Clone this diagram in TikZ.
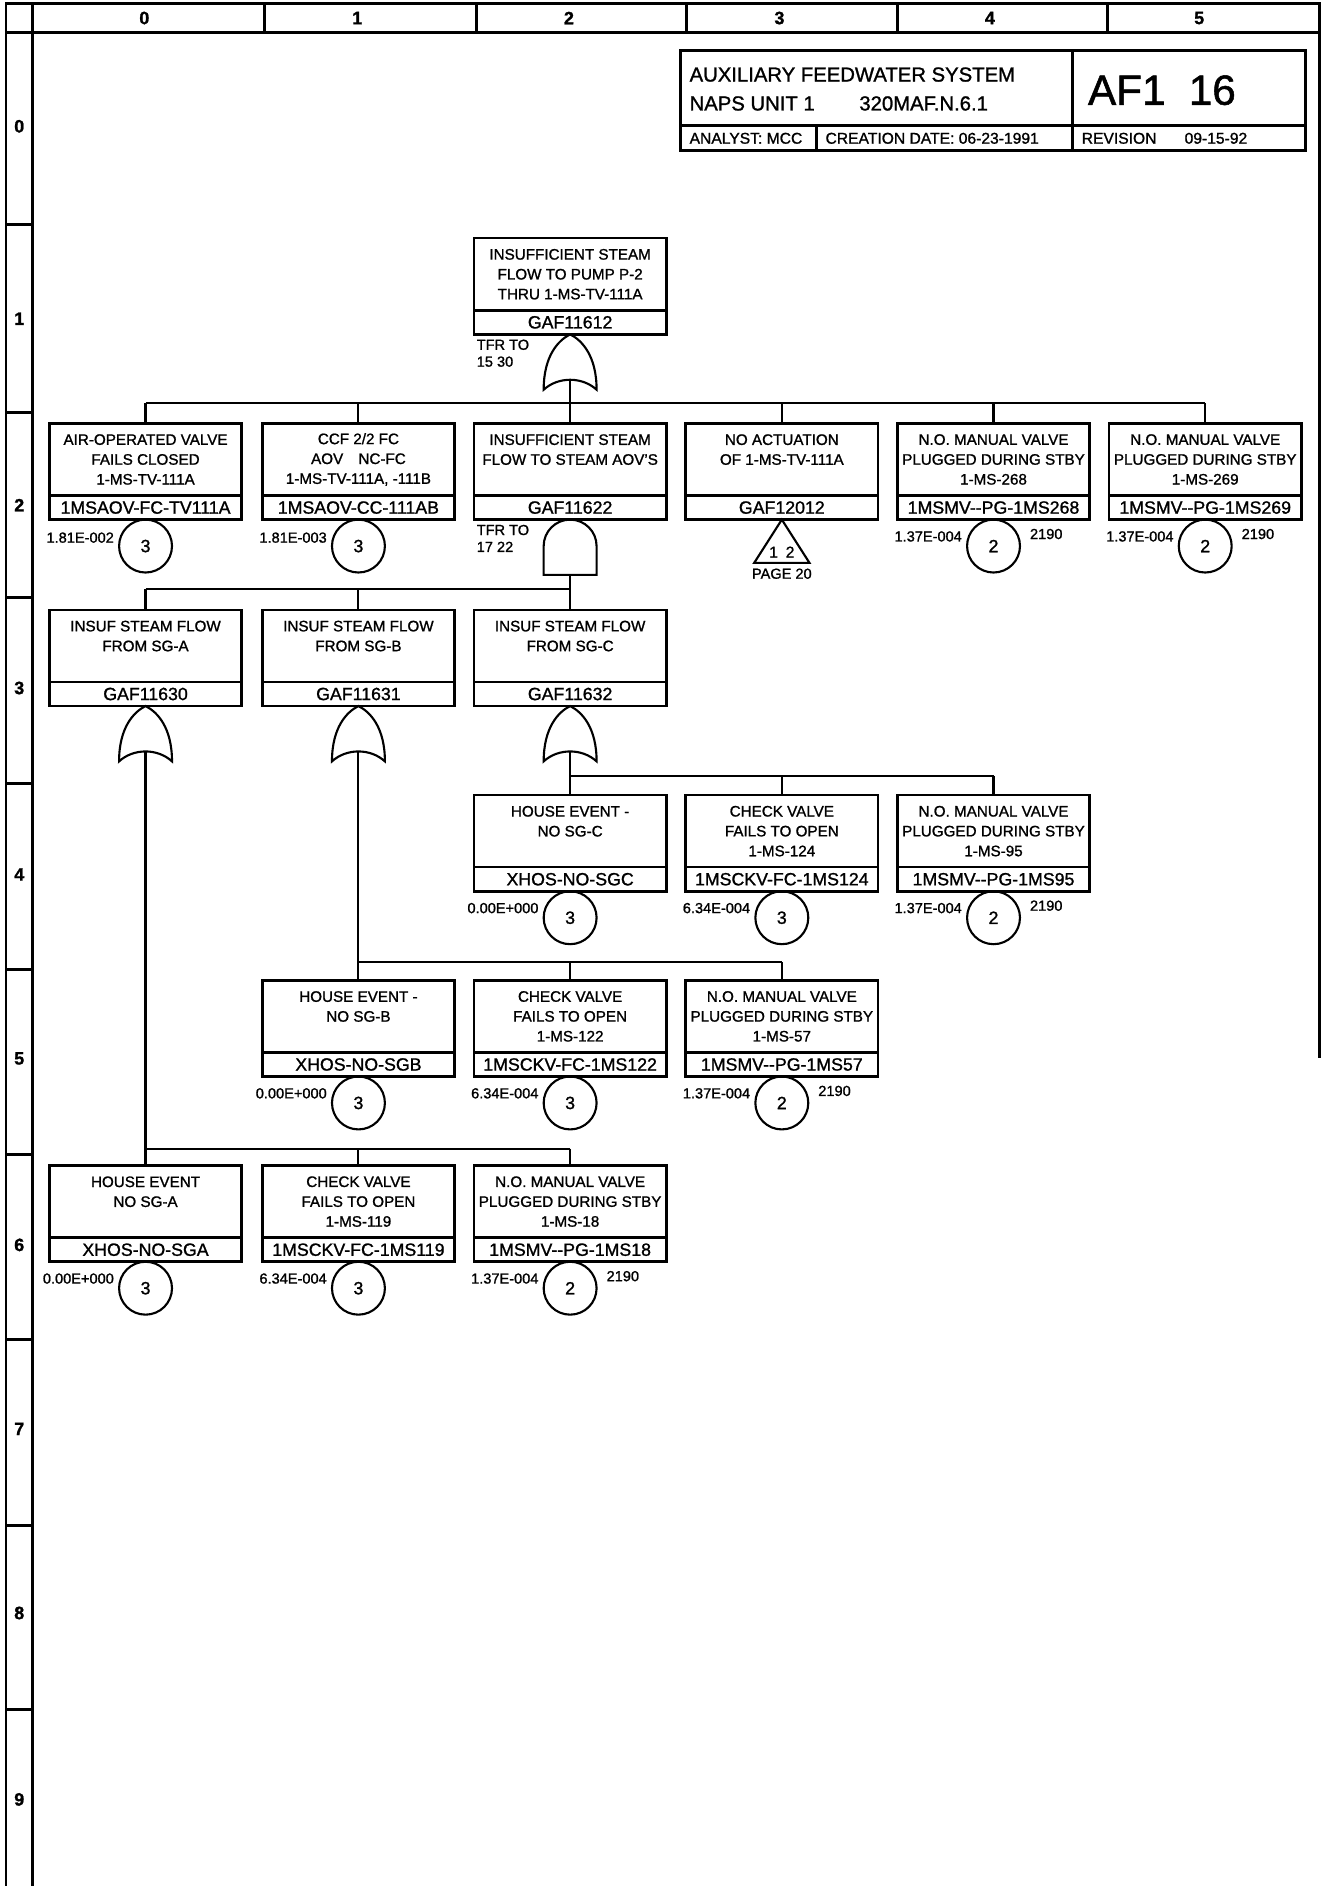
\documentclass[tikz,border=0pt]{standalone}
\usepackage{fontspec}
\setmainfont{Liberation Sans}[FakeBold=1.2]
\usetikzlibrary{positioning}

\tikzset{
  frame/.style={line width=1.4pt},
  wire/.style={line width=1pt},
  descbox/.style={draw, line width=1.2pt, minimum width=3.2cm, minimum height=1.2cm,
    inner sep=0pt, outer sep=0pt, align=center, font=\fontsize{7.2}{9.4}\selectfont},
  idbox/.style={draw, line width=1.2pt, minimum width=3.2cm, minimum height=0.4cm,
    inner sep=0pt, outer sep=0pt, font=\fontsize{8.4}{10}\selectfont},
  evcirc/.style={circle, draw, line width=1pt, minimum size=0.88cm,
    inner sep=0pt, outer sep=0pt, font=\fontsize{8.4}{10}\selectfont},
  valtxt/.style={inner sep=0pt, font=\fontsize{6.9}{8}\selectfont},
  rulertxt/.style={inner sep=0pt, font=\fontsize{8.5}{10}\selectfont\bfseries},
  titletxt/.style={inner sep=0pt, anchor=west, font=\fontsize{9.6}{11}\selectfont},
  smalltitle/.style={inner sep=0pt, anchor=west, font=\fontsize{7.4}{9}\selectfont},
  orgate/.pic={
    \draw[line width=1pt] (0,0) .. controls (10,5) and (22,18) .. (22,46)
      .. controls (10,35) and (-10,35) .. (-22,46)
      .. controls (-22,18) and (-10,5) .. (0,0) -- cycle;
    \coordinate (-out) at (0,37.8);
  },
  andgate/.pic={
    \draw[line width=1pt] (-22,46) -- (-22,22) arc[start angle=180, end angle=0, radius=0.44cm]
      -- (22,46) -- cycle;
    \coordinate (-out) at (0,46);
  }
}

\begin{document}
\begin{tikzpicture}[x=0.02cm, y=-0.02cm]
\useasboundingbox (0,0) rectangle (1099,1568);

% sheet frame and grid ruler
\draw[frame] (5,1568) -- (5,3) -- (1097,3) -- (1097,880);
\draw[frame] (5,27) -- (1097,27);
\draw[frame] (27,3) -- (27,1568);
\foreach \x in {220,396,571,746,921} \draw[frame] (\x,3) -- (\x,27);
\foreach \y in {187,343,497,651,806,960,1114,1268,1421} \draw[frame] (5,\y) -- (27,\y);
\foreach \i/\x in {0/120,1/297,2/473,3/648,4/823,5/997} \node[rulertxt] (col\i) at (\x,15) {\i};
\foreach \i/\y in {0/105,1/265,2/420,3/572,4/727,5/880,6/1035,7/1188,8/1341,9/1496}
  \node[rulertxt] (row\i) at (16,\y) {\i};

% title block
\draw[frame] (566,42) rectangle (1085,125);
\draw[frame] (892,42) -- (892,125);
\draw[frame] (566,104) -- (1085,104);
\draw[frame] (679,104) -- (679,125);
\node[titletxt] (sysname) at (573,62) {AUXILIARY FEEDWATER SYSTEM};
\node[titletxt] (unitname) at (573,86) {NAPS UNIT 1\hspace{2.2em}320MAF.N.6.1};
\node[inner sep=0pt, font=\fontsize{20}{22}\selectfont] (pageno) at (966,75) {AF1\hspace{0.55em}16};
\node[smalltitle] (analyst) at (573,115) {ANALYST: MCC};
\node[smalltitle] (created) at (686,115) {CREATION DATE: 06-23-1991};
\node[smalltitle] (revised) at (899,115) {REVISION\hspace{1.8em}09-15-92};

% top event
\node[descbox] (g11612) at (474,228) {INSUFFICIENT STEAM\\FLOW TO PUMP P-2\\THRU 1-MS-TV-111A};
\node[idbox, below=0pt of g11612] (g11612id) {GAF11612};
\pic (o1) at (g11612id.south) {orgate};
\node[valtxt, anchor=north west, align=left] (tfr1) at ([xshift=0.04cm,yshift=-0.08cm]g11612id.south west) {TFR TO\\15 30};

% row 2
\node[descbox] (aovfc) at (121,382) {AIR-OPERATED VALVE\\FAILS CLOSED\\1-MS-TV-111A};
\node[idbox, below=0pt of aovfc] (aovfcid) {1MSAOV-FC-TV111A};
\node[evcirc, below=0pt of aovfcid] (aovfcc) {3};
\node[valtxt, anchor=east] (aovfcv) at ([xshift=-0.08cm,yshift=0.14cm]aovfcc.west) {1.81E-002};

\node[descbox] (aovcc) at (298,382) {CCF 2/2 FC\\AOV\hspace{1em}NC-FC\\1-MS-TV-111A, -111B};
\node[idbox, below=0pt of aovcc] (aovccid) {1MSAOV-CC-111AB};
\node[evcirc, below=0pt of aovccid] (aovccc) {3};
\node[valtxt, anchor=east] (aovccv) at ([xshift=-0.08cm,yshift=0.14cm]aovccc.west) {1.81E-003};

\node[descbox] (g11622) at (474,382) {INSUFFICIENT STEAM\\FLOW TO STEAM AOV'S\\~};
\node[idbox, below=0pt of g11622] (g11622id) {GAF11622};
\pic (a1) at (g11622id.south) {andgate};
\node[valtxt, anchor=north west, align=left] (tfr2) at ([xshift=0.04cm,yshift=-0.08cm]g11622id.south west) {TFR TO\\17 22};

\node[descbox] (g12012) at (650,382) {NO ACTUATION\\OF 1-MS-TV-111A\\~};
\node[idbox, below=0pt of g12012] (g12012id) {GAF12012};
\draw[wire] (g12012id.south) -- ++(23,36) -- ++(-46,0) -- cycle;
\node[valtxt, font=\fontsize{7.4}{9}\selectfont] (trin) at ([yshift=-0.54cm]g12012id.south) {1\hspace{0.5em}2};
\node[valtxt] (trpage) at ([yshift=-0.9cm]g12012id.south) {PAGE 20};

\node[descbox] (pg268) at (826,382) {N.O. MANUAL VALVE\\PLUGGED DURING STBY\\1-MS-268};
\node[idbox, below=0pt of pg268] (pg268id) {1MSMV-{}-PG-1MS268};
\node[evcirc, below=0pt of pg268id] (pg268c) {2};
\node[valtxt, anchor=east] (pg268v) at ([xshift=-0.08cm,yshift=0.16cm]pg268c.west) {1.37E-004};
\node[valtxt, anchor=west] (pg268t) at ([xshift=0.16cm,yshift=0.2cm]pg268c.east) {2190};

\node[descbox] (pg269) at (1002,382) {N.O. MANUAL VALVE\\PLUGGED DURING STBY\\1-MS-269};
\node[idbox, below=0pt of pg269] (pg269id) {1MSMV-{}-PG-1MS269};
\node[evcirc, below=0pt of pg269id] (pg269c) {2};
\node[valtxt, anchor=east] (pg269v) at ([xshift=-0.08cm,yshift=0.16cm]pg269c.west) {1.37E-004};
\node[valtxt, anchor=west] (pg269t) at ([xshift=0.16cm,yshift=0.2cm]pg269c.east) {2190};

% row 3
\node[descbox] (g11630) at (121,537) {INSUF STEAM FLOW\\FROM SG-A\\~};
\node[idbox, below=0pt of g11630] (g11630id) {GAF11630};
\pic (o2) at (g11630id.south) {orgate};

\node[descbox] (g11631) at (298,537) {INSUF STEAM FLOW\\FROM SG-B\\~};
\node[idbox, below=0pt of g11631] (g11631id) {GAF11631};
\pic (o3) at (g11631id.south) {orgate};

\node[descbox] (g11632) at (474,537) {INSUF STEAM FLOW\\FROM SG-C\\~};
\node[idbox, below=0pt of g11632] (g11632id) {GAF11632};
\pic (o4) at (g11632id.south) {orgate};

% row 4
\node[descbox] (hossgc) at (474,691) {HOUSE EVENT -\\NO SG-C\\~};
\node[idbox, below=0pt of hossgc] (hossgcid) {XHOS-NO-SGC};
\node[evcirc, below=0pt of hossgcid] (hossgcc) {3};
\node[valtxt, anchor=east] (hossgcv) at ([xshift=-0.08cm,yshift=0.16cm]hossgcc.west) {0.00E+000};

\node[descbox] (ckv124) at (650,691) {CHECK VALVE\\FAILS TO OPEN\\1-MS-124};
\node[idbox, below=0pt of ckv124] (ckv124id) {1MSCKV-FC-1MS124};
\node[evcirc, below=0pt of ckv124id] (ckv124c) {3};
\node[valtxt, anchor=east] (ckv124v) at ([xshift=-0.08cm,yshift=0.16cm]ckv124c.west) {6.34E-004};

\node[descbox] (pg95) at (826,691) {N.O. MANUAL VALVE\\PLUGGED DURING STBY\\1-MS-95};
\node[idbox, below=0pt of pg95] (pg95id) {1MSMV-{}-PG-1MS95};
\node[evcirc, below=0pt of pg95id] (pg95c) {2};
\node[valtxt, anchor=east] (pg95v) at ([xshift=-0.08cm,yshift=0.16cm]pg95c.west) {1.37E-004};
\node[valtxt, anchor=west] (pg95t) at ([xshift=0.16cm,yshift=0.2cm]pg95c.east) {2190};

% row 5
\node[descbox] (hossgb) at (298,845) {HOUSE EVENT -\\NO SG-B\\~};
\node[idbox, below=0pt of hossgb] (hossgbid) {XHOS-NO-SGB};
\node[evcirc, below=0pt of hossgbid] (hossgbc) {3};
\node[valtxt, anchor=east] (hossgbv) at ([xshift=-0.08cm,yshift=0.16cm]hossgbc.west) {0.00E+000};

\node[descbox] (ckv122) at (474,845) {CHECK VALVE\\FAILS TO OPEN\\1-MS-122};
\node[idbox, below=0pt of ckv122] (ckv122id) {1MSCKV-FC-1MS122};
\node[evcirc, below=0pt of ckv122id] (ckv122c) {3};
\node[valtxt, anchor=east] (ckv122v) at ([xshift=-0.08cm,yshift=0.16cm]ckv122c.west) {6.34E-004};

\node[descbox] (pg57) at (650,845) {N.O. MANUAL VALVE\\PLUGGED DURING STBY\\1-MS-57};
\node[idbox, below=0pt of pg57] (pg57id) {1MSMV-{}-PG-1MS57};
\node[evcirc, below=0pt of pg57id] (pg57c) {2};
\node[valtxt, anchor=east] (pg57v) at ([xshift=-0.08cm,yshift=0.16cm]pg57c.west) {1.37E-004};
\node[valtxt, anchor=west] (pg57t) at ([xshift=0.16cm,yshift=0.2cm]pg57c.east) {2190};

% row 6
\node[descbox] (hossga) at (121,999) {HOUSE EVENT\\NO SG-A\\~};
\node[idbox, below=0pt of hossga] (hossgaid) {XHOS-NO-SGA};
\node[evcirc, below=0pt of hossgaid] (hossgac) {3};
\node[valtxt, anchor=east] (hossgav) at ([xshift=-0.08cm,yshift=0.16cm]hossgac.west) {0.00E+000};

\node[descbox] (ckv119) at (298,999) {CHECK VALVE\\FAILS TO OPEN\\1-MS-119};
\node[idbox, below=0pt of ckv119] (ckv119id) {1MSCKV-FC-1MS119};
\node[evcirc, below=0pt of ckv119id] (ckv119c) {3};
\node[valtxt, anchor=east] (ckv119v) at ([xshift=-0.08cm,yshift=0.16cm]ckv119c.west) {6.34E-004};

\node[descbox] (pg18) at (474,999) {N.O. MANUAL VALVE\\PLUGGED DURING STBY\\1-MS-18};
\node[idbox, below=0pt of pg18] (pg18id) {1MSMV-{}-PG-1MS18};
\node[evcirc, below=0pt of pg18id] (pg18c) {2};
\node[valtxt, anchor=east] (pg18v) at ([xshift=-0.08cm,yshift=0.16cm]pg18c.west) {1.37E-004};
\node[valtxt, anchor=west] (pg18t) at ([xshift=0.16cm,yshift=0.2cm]pg18c.east) {2190};

% connectors
\coordinate (bus1) at (474,335);
\draw[wire] (o1-out) -- (bus1);
\draw[wire] (bus1 -| aovfc.north) -- (bus1 -| pg269.north);
\foreach \c in {aovfc,aovcc,g11622,g12012,pg268,pg269} \draw[wire] (bus1 -| \c.north) -- (\c.north);

\coordinate (bus2) at (474,490);
\draw[wire] (a1-out) -- (bus2);
\draw[wire] (bus2 -| g11630.north) -- (bus2);
\foreach \c in {g11630,g11631,g11632} \draw[wire] (bus2 -| \c.north) -- (\c.north);

\coordinate (bus4) at (474,645);
\draw[wire] (o4-out) -- (bus4);
\draw[wire] (bus4) -- (bus4 -| pg95.north);
\foreach \c in {hossgc,ckv124,pg95} \draw[wire] (bus4 -| \c.north) -- (\c.north);

\coordinate (bus5) at (298,800);
\draw[wire] (o3-out) -- (bus5);
\draw[wire] (bus5) -- (bus5 -| pg57.north);
\foreach \c in {hossgb,ckv122,pg57} \draw[wire] (bus5 -| \c.north) -- (\c.north);

\coordinate (bus6) at (121,955);
\draw[wire] (o2-out) -- (bus6);
\draw[wire] (bus6) -- (bus6 -| pg18.north);
\foreach \c in {hossga,ckv119,pg18} \draw[wire] (bus6 -| \c.north) -- (\c.north);

\end{tikzpicture}
\end{document}
